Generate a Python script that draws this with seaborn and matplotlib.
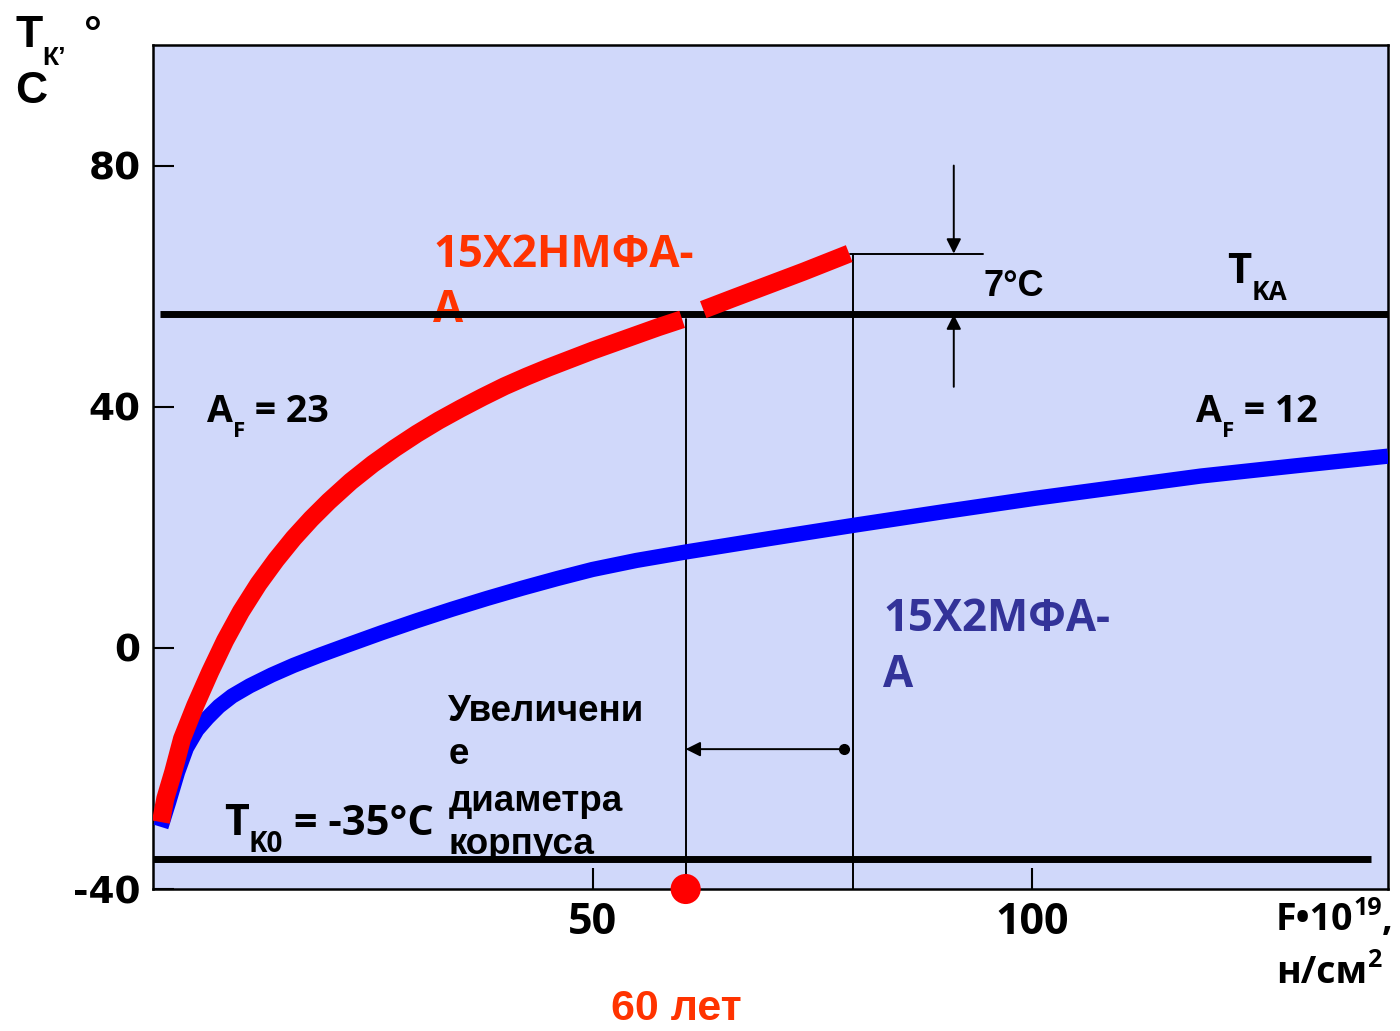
import matplotlib
matplotlib.use("Agg")
import matplotlib.pyplot as plt
from matplotlib.transforms import IdentityTransform
import pandas as pd
import seaborn as sns

# Radiation embrittlement: critical brittleness temperature T_K (°C)
# versus neutron fluence F (10^19 n/cm^2) for two reactor vessel steels.

# 15Х2НМФА-А, first part (up to the 60-year fluence)
fluence_nmfa_1 = [0.9, 1.4, 2.3, 3.3, 4.8, 6.5, 8.2, 10.0, 12.0, 14.0, 16.0,
                  18.0, 20.0, 22.5, 25.0, 27.5, 30.0, 32.5, 35.0, 37.5, 40.0,
                  42.5, 45.0, 47.5, 50.0, 52.5, 55.0, 57.5, 60.2]
tk_nmfa_1 = [-28.9, -25.0, -20.6, -15.1, -9.6, -4.0, 1.2, 6.0, 10.6, 14.6,
             18.2, 21.4, 24.3, 27.6, 30.5, 33.1, 35.5, 37.7, 39.7, 41.6, 43.4,
             45.0, 46.5, 47.9, 49.3, 50.6, 51.9, 53.2, 54.5]
# 15Х2НМФА-А, extension for the larger vessel diameter
fluence_nmfa_2 = [62.6, 66.0, 70.0, 74.0, 79.2]
tk_nmfa_2 = [56.1, 58.0, 60.2, 62.4, 65.4]

# 15Х2МФА-А
fluence_mfa = [0.9, 1.8, 2.8, 3.8, 5.0, 6.2, 7.5, 9.0, 11.0, 13.5, 16.0, 19.0,
               22.0, 26.0, 30.0, 34.0, 38.0, 42.0, 46.0, 50.0, 55.0, 60.6,
               70.0, 79.6, 90.0, 100.3, 110.0, 119.2, 130.0, 140.5]
tk_mfa = [-29.7, -25.5, -20.6, -16.6, -13.6, -11.6, -9.7, -8.0, -6.3, -4.5,
          -2.9, -1.2, 0.4, 2.5, 4.5, 6.4, 8.2, 9.9, 11.5, 13.0, 14.5, 15.9,
          18.1, 20.3, 22.6, 24.8, 26.7, 28.5, 30.2, 31.8]

tk_a = 55.3          # allowable T_KA level
tk_0 = -35.0         # initial T_K0
tk_end = 65.4        # T_K at the end of the extended curve
fluence_60y = 60.6   # fluence after 60 years
fluence_big = 79.6   # fluence for the smaller vessel diameter

x_ticks = [50, 100]
y_ticks = [-40, 0, 40, 80]

W, H = 1400, 1031
CAL = ["Open Sans", "DejaVu Sans"]
ARI = ["Liberation Sans", "DejaVu Sans"]
RED_TXT = "#FF3300"
BLUE_TXT = "#333399"

sns.set_theme(style="white")
plt.rcParams["font.family"] = CAL

fig = plt.figure(figsize=(W / 100, H / 100), dpi=100)
ax = fig.add_axes([153 / W, 1 - 889 / H, (1388 - 153) / W, (889 - 45) / H])
ax.set_facecolor("#D0D8FA")
ax.set_xlim(0, 140.5)
ax.set_ylim(-40, 100)

df_mfa = pd.DataFrame({"F": fluence_mfa, "T": tk_mfa})
df_n1 = pd.DataFrame({"F": fluence_nmfa_1, "T": tk_nmfa_1})
df_n2 = pd.DataFrame({"F": fluence_nmfa_2, "T": tk_nmfa_2})

# reference levels
ax.plot([0.8, 140.5], [tk_a, tk_a], color="black", lw=5, zorder=4,
        solid_capstyle="butt")
ax.plot([0, 138.6], [tk_0, tk_0], color="black", lw=5, zorder=4,
        solid_capstyle="butt")

# curves
sns.lineplot(data=df_mfa, x="F", y="T", ax=ax, color="#0000FF", lw=11,
             sort=False, estimator=None, solid_capstyle="butt",
             solid_joinstyle="round", zorder=5)
sns.lineplot(data=df_n1, x="F", y="T", ax=ax, color="#FF0000", lw=13,
             sort=False, estimator=None, solid_capstyle="butt",
             solid_joinstyle="round", zorder=6)
sns.lineplot(data=df_n2, x="F", y="T", ax=ax, color="#FF0000", lw=13,
             sort=False, estimator=None, solid_capstyle="butt",
             solid_joinstyle="round", zorder=6)

# dimension lines
ax.plot([fluence_60y, fluence_60y], [-40, tk_nmfa_1[-1]], color="black",
        lw=1.4, zorder=3)
ax.plot([fluence_big, fluence_big], [-40, tk_end], color="black", lw=1.4,
        zorder=3)
ax.plot([fluence_big - 0.3, 94.4], [tk_end, tk_end], color="black", lw=1.4,
        zorder=3)
arrow = dict(arrowstyle="-|>", color="black", lw=1.4, mutation_scale=22,
             shrinkA=0, shrinkB=0)
ax.annotate("", xy=(91.1, tk_end), xytext=(91.1, 80), arrowprops=arrow,
            zorder=7)
ax.annotate("", xy=(91.1, tk_a), xytext=(91.1, 43.3), arrowprops=arrow,
            zorder=7)
ax.annotate("", xy=(fluence_60y, -16.8), xytext=(78.6, -16.8),
            arrowprops=arrow, zorder=7)
ax.plot([78.6], [-16.8], "o", color="black", ms=7, zorder=7)

# 60-year point on the axis
sns.scatterplot(x=[fluence_60y], y=[-40], ax=ax, color="#FF0000", s=470,
                edgecolor="none", clip_on=False, zorder=10, legend=False)

# axes styling
ax.set_xticks(x_ticks)
ax.set_yticks(y_ticks)
ax.set_xticklabels([str(v) for v in x_ticks], fontsize=31,
                   fontweight="bold", family=CAL)
ax.set_yticklabels([str(v) for v in y_ticks], fontsize=27,
                   fontweight="bold", family=["DejaVu Sans"])
ax.tick_params(axis="both", direction="in", length=15, width=1.5,
               colors="black", bottom=True, left=True)
ax.tick_params(axis="x", pad=9)
ax.tick_params(axis="y", pad=9)
for sp in ax.spines.values():
    sp.set_color("black")
    sp.set_linewidth(1.8)
ax.set_xlabel("")
ax.set_ylabel("")

renderer = fig.canvas.get_renderer()
PIX = IdentityTransform()


def run(host, px, py, pieces, fam=CAL, color="black", z=2):
    """Write text pieces left to right starting at pixel (px, py) from the
    top-left corner; each piece is (text, size, vertical shift in px)."""
    x = px
    for s, size, dy in pieces:
        t = host.text(x, H - (py + dy), s, transform=PIX, fontsize=size,
                      fontweight="bold", color=color, family=fam,
                      ha="left", va="baseline", zorder=z, clip_on=False)
        x = t.get_window_extent(renderer).x1


def dtext(x, y, s, size, color="black", fam=CAL, z=2):
    ax.text(x, y, s, fontsize=size, fontweight="bold", color=color,
            family=fam, ha="left", va="baseline", zorder=z)


# steel grade labels
dtext(31.9, 63.2, "15Х2НМФА-", 31.5, RED_TXT)
dtext(31.9, 54.1, "А", 31.5, RED_TXT)
dtext(83.1, 2.8, "15Х2МФА-", 31.5, BLUE_TXT)
dtext(83.1, -6.5, "А", 31.5, BLUE_TXT)

# radiation embrittlement coefficients
run(ax, 207, 422, [("A", 27, 0), ("F", 16, 15), (" = 23", 27, 0)])
run(ax, 1196, 422, [("A", 27, 0), ("F", 16, 15), (" = 12", 27, 0)])

# level labels
run(ax, 1227, 283, [("T", 30, 0), ("KA", 19, 17)])
run(ax, 224, 835, [("T", 31, 0), ("K0", 20, 17), (" = -35°C", 30, 0)])
dtext(94.5, 58.4, "7°C", 26, fam=ARI)

# vessel diameter note
for txt, yb in zip(["Увеличени", "е", "диаметра", "корпуса"],
                   [-12.1, -19.3, -27.1, -34.2]):
    dtext(33.6, yb, txt, 26.5, fam=ARI)

# axis titles
run(fig, 15, 47, [("T", 32, 0), ("К’", 19, 18)], fam=ARI)
run(fig, 84, 47, [("°", 32, 0)], fam=ARI)
run(fig, 15, 103, [("C", 32, 0)], fam=ARI)
run(fig, 1276, 930, [("F•10", 27, 0), ("19", 18, -15), (",", 27, 0)])
run(fig, 1276, 983, [("н/см", 27, 0), ("2", 18, -16)])
fig.text(676 / W, 2 / H, "60 лет", fontsize=31, fontweight="bold",
         color=RED_TXT, family=ARI, ha="center", va="bottom")

fig.savefig("out.png", dpi=100)
